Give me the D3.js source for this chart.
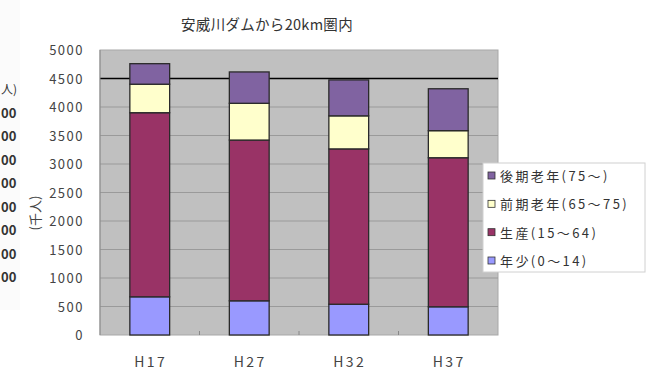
<!DOCTYPE html>
<html><head><meta charset="utf-8">
<script src="https://cdn.jsdelivr.net/npm/d3@7"></script>
<style>body{margin:0;background:#fff}svg{display:block}text{font-family:"Noto Sans CJK JP",sans-serif}</style>
</head><body><svg id="c" width="665" height="371"></svg>
<script>
const categories = ["H17","H27","H32","H37"];
const seriesNames = ["年少(0〜14)","生産(15〜64)","前期老年(65〜75)","後期老年(75〜)"];
const young   = [670, 600, 540, 495];
const working = [3230, 2820, 2725, 2615];
const elderly1 = [500, 645, 580, 475];
const elderly2 = [360, 550, 630, 735];
const yTicks = [0,500,1000,1500,2000,2500,3000,3500,4000,4500,5000];
const refValue = 4500;
const title = "安威川ダムから20km圏内";
const yTitle = "(千人)";
const leftStripTitle = "人)";
const leftStripLabels = ["00","00","00","00","00","00","00","00"];
const colors = ["#9999ff","#993366","#ffffcc","#8063a1"];

const svg = d3.select("#c");
const M = {l:100, r:498, t:50, b:335};

// faint left strip (cropped neighbour chart)
svg.append("rect").attr("x",0).attr("y",0).attr("width",20).attr("height",310).attr("fill","#fbfbfb");
svg.append("text").attr("x",1).attr("y",94).attr("font-size",12).attr("fill","#333").text(leftStripTitle);
const stripY = d3.scaleLinear().domain([0, leftStripLabels.length-1]).range([113,277]);
leftStripLabels.forEach((t,i)=>{
  svg.append("text").attr("x",1).attr("y",stripY(i)+5)
    .attr("font-size",13).attr("font-weight","bold").attr("fill","#333").text(t);
});

const data = categories.map((c,i)=>({cat:c, v:[young[i],working[i],elderly1[i],elderly2[i]]}));
const stack = d3.stack().keys([0,1,2,3]).value((d,k)=>d.v[k]);
const series = stack(data);

const x = d3.scaleBand().domain(categories).range([M.l,M.r]).paddingInner(0.6).paddingOuter(0.3);
const xb = d3.scaleBand().domain(categories).range([M.l,M.r]);
const y = d3.scaleLinear().domain([0,5000]).range([M.b,M.t]);

// plot area
svg.append("rect").attr("x",M.l).attr("y",M.t).attr("width",M.r-M.l).attr("height",M.b-M.t)
  .attr("fill","#c0c0c0").attr("stroke","#a8a8a8");
// gridlines
svg.append("g").selectAll("line").data(yTicks.filter(t=>t>0&&t<5000&&t!==refValue)).join("line")
  .attr("x1",M.l).attr("x2",M.r).attr("y1",d=>y(d)).attr("y2",d=>y(d))
  .attr("stroke","#9a9a9a").attr("stroke-width",1);
// reference line
svg.append("line").attr("x1",M.l).attr("x2",M.r).attr("y1",y(refValue)).attr("y2",y(refValue))
  .attr("stroke","#000").attr("stroke-width",1.6);

// x ticks between categories
svg.append("g").selectAll("line").data(categories.slice(1)).join("line")
  .attr("x1",d=>xb(d)).attr("x2",d=>xb(d)).attr("y1",M.b-4).attr("y2",M.b)
  .attr("stroke","#888");

// bars
svg.append("g").selectAll("g").data(series).join("g").attr("fill",(d,i)=>colors[i])
  .selectAll("rect").data(d=>d).join("rect")
  .attr("x",d=>x(d.data.cat)).attr("width",x.bandwidth())
  .attr("y",d=>y(d[1])).attr("height",d=>y(d[0])-y(d[1]))
  .attr("stroke","#2a2a2a").attr("stroke-width",1.3);

// y axis line
svg.append("line").attr("x1",M.l).attr("x2",M.l).attr("y1",M.t).attr("y2",M.b).attr("stroke","#8a8a8a");

// y labels
svg.append("g").selectAll("text").data(yTicks).join("text")
  .attr("x",84).attr("y",d=>y(d)+5).attr("text-anchor","end")
  .attr("font-size",13).attr("fill","#444").attr("letter-spacing",1.5).text(d=>d);
// x labels
svg.append("g").selectAll("text").data(categories).join("text")
  .attr("x",d=>x(d)+x.bandwidth()/2+1).attr("y",367).attr("text-anchor","middle")
  .attr("font-size",14).attr("fill","#444").attr("letter-spacing",2.5).text(d=>d);
// title
svg.append("text").attr("x",267).attr("y",30).attr("text-anchor","middle")
  .attr("font-size",14.5).attr("fill","#333").attr("letter-spacing",0.3).text(title);
// y title
svg.append("text").attr("transform","translate(40,213) rotate(-90)").attr("text-anchor","middle")
  .attr("font-size",13).attr("fill","#444").text(yTitle);

// legend
const lg = svg.append("g");
lg.append("rect").attr("x",483).attr("y",163).attr("width",162).attr("height",109)
  .attr("fill","#fff").attr("stroke","#d0d0d0");
const ly = d3.scalePoint().domain([3,2,1,0]).range([176,261]);
[3,2,1,0].forEach(k=>{
  lg.append("rect").attr("x",488).attr("y",ly(k)-4).attr("width",7).attr("height",7)
    .attr("fill",colors[k]).attr("stroke","#333").attr("stroke-width",0.8);
  lg.append("text").attr("x",500).attr("y",ly(k)+5).attr("font-size",13).attr("fill","#333")
    .attr("letter-spacing",2.4).text(seriesNames[k]);
});
</script></body></html>
